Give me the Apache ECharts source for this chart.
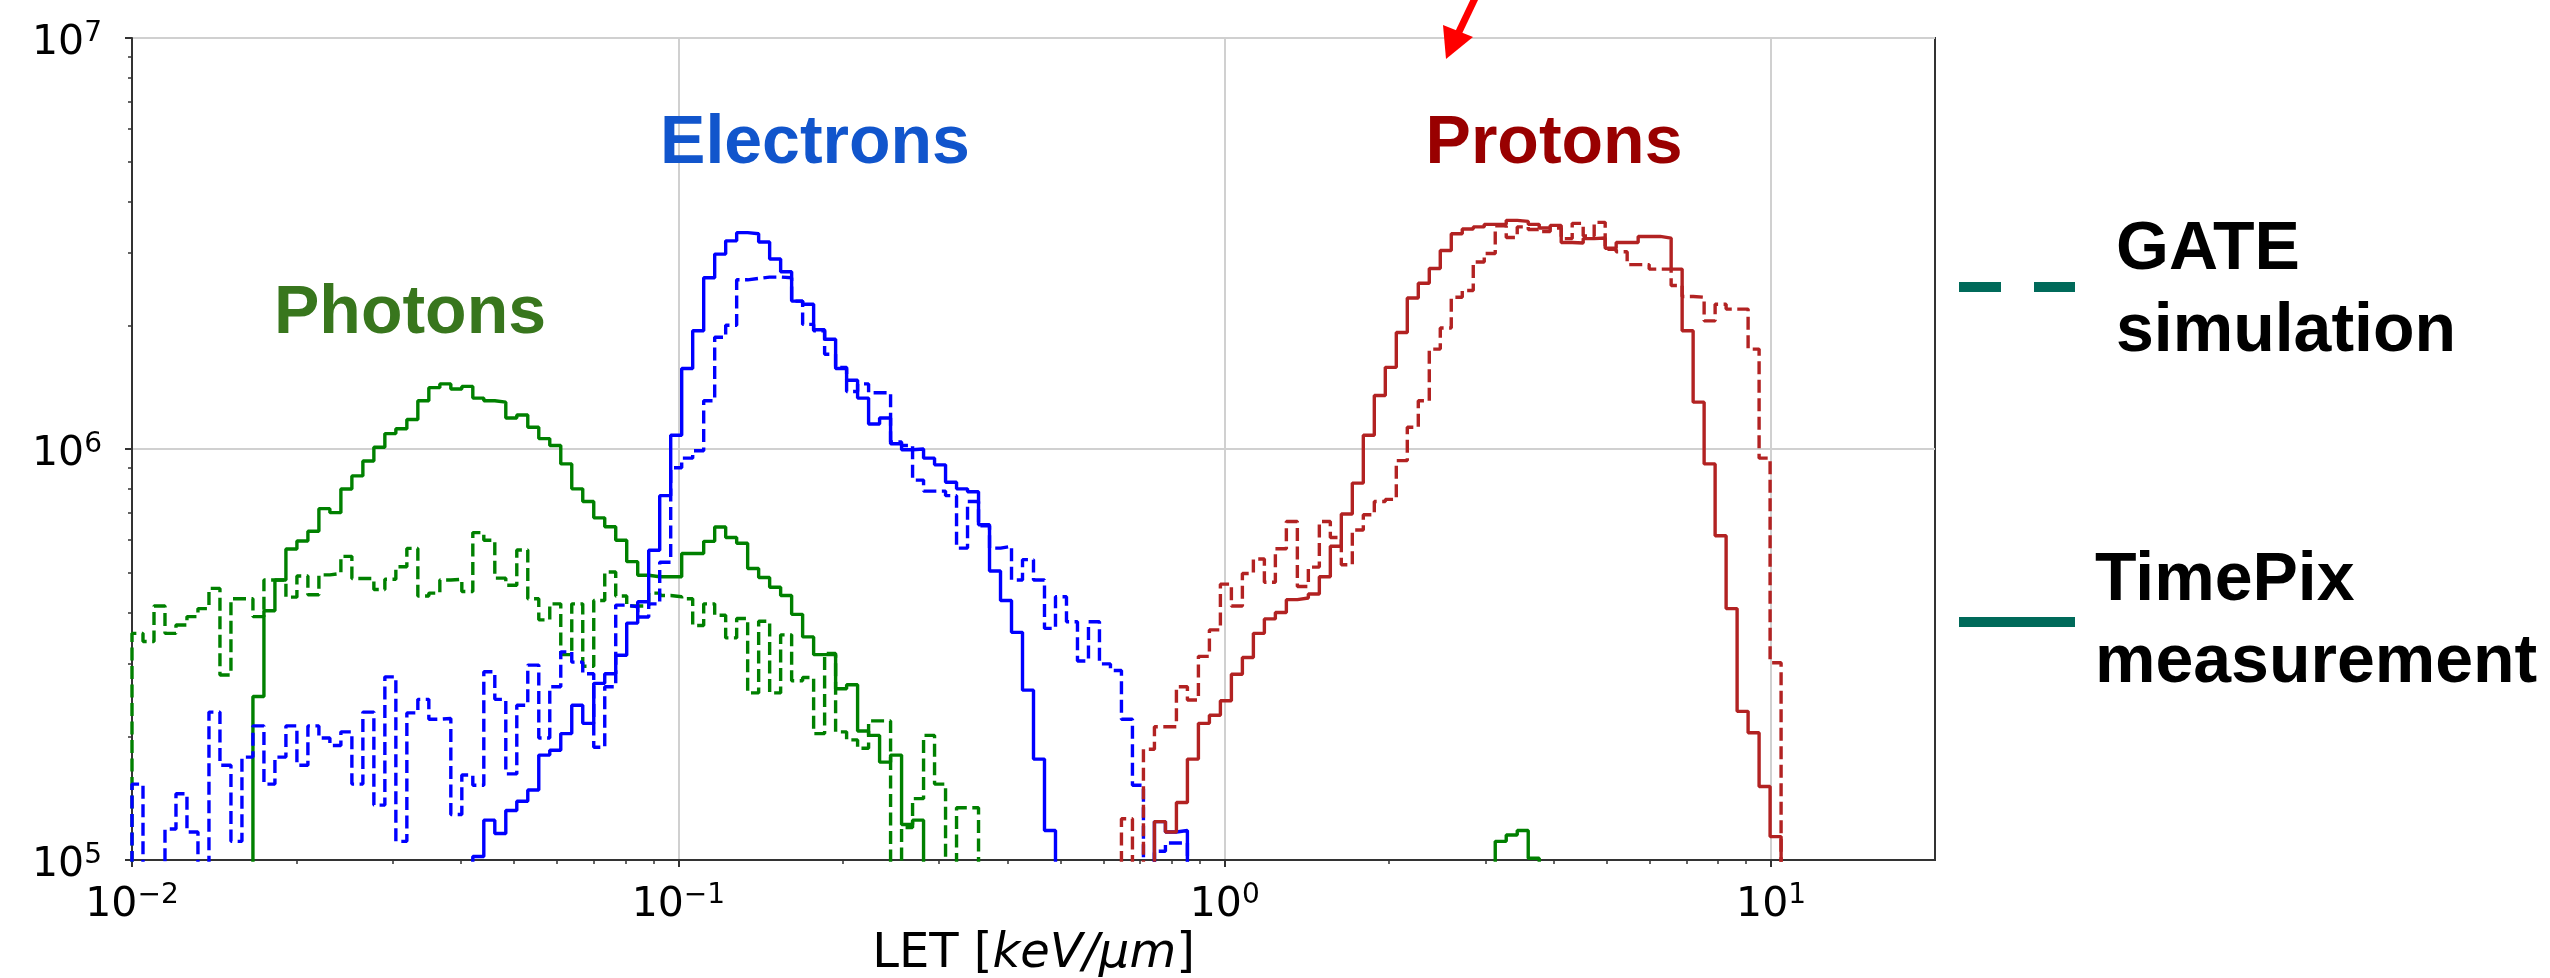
<!DOCTYPE html>
<html>
<head>
<meta charset="utf-8">
<script src="https://cdn.jsdelivr.net/npm/echarts@6/dist/echarts.min.js"></script>
<style>
html,body{margin:0;padding:0;background:#ffffff;}
#chart{width:2550px;height:978px;}
</style>
</head>
<body>
<div id="chart"></div>
<script>
// ---------------- data ----------------
// histogram bins: log-uniform edges from 10^-2 to 10^1.3
const LOG_LO = -2;
const LOG_HI = 1.3;
const N_BINS = 164;
const FLOOR = 1e4;          // below the visible 1e5 floor (line drops out of view)

const X_TICKS = [0.01, 0.1, 1, 10];
const X_MINOR = [0.02,0.03,0.04,0.05,0.06,0.07,0.08,0.09,0.2,0.3,0.4,0.5,0.6,0.7,0.8,0.9,2,3,4,5,6,7,8,9];
const Y_TICKS = [1e5, 1e6, 1e7];
const Y_MINOR = [2e5,3e5,4e5,5e5,6e5,7e5,8e5,9e5,2e6,3e6,4e6,5e6,6e6,7e6,8e6,9e6];

// counts per bin; first bin index given separately (6e4 = bin below the 1e5 floor)
const PHOTONS_GATE_FIRST = 0;
const PHOTONS_GATE = [
 3.56e5,3.4e5,4.15e5,3.56e5,3.73e5,3.91e5,4.09e5,4.58e5,2.82e5,4.32e5,
 4.32e5,3.91e5,4.8e5,4.8e5,4.36e5,4.91e5,4.42e5,4.94e5,4.98e5,5.48e5,
 4.84e5,4.84e5,4.55e5,4.82e5,5.17e5,5.73e5,4.39e5,4.46e5,4.8e5,4.82e5,
 4.5e5,6.26e5,6.0e5,4.85e5,4.66e5,5.68e5,4.32e5,3.84e5,4.2e5,3.16e5,
 4.2e5,2.96e5,4.28e5,5.02e5,4.39e5,4.15e5,4.15e5,4.46e5,4.4e5,4.37e5,
 4.32e5,3.72e5,4.2e5,3.94e5,3.47e5,3.87e5,2.55e5,3.81e5,2.55e5,3.53e5,
 2.73e5,2.78e5,2.03e5,3.18e5,2.05e5,1.96e5,1.87e5,2.18e5,2.18e5,6e4,
 1.2e5,1.41e5,2.01e5,1.53e5,6e4,1.34e5,1.34e5
];
const PHOTONS_TPX_FIRST = 11;
const PHOTONS_TPX = [
 2.5e5,4.04e5,4.8e5,5.71e5,5.97e5,6.31e5,7.16e5,7.0e5,7.99e5,8.6e5,
 9.35e5,1.01e6,1.09e6,1.12e6,1.18e6,1.31e6,1.41e6,1.44e6,1.40e6,1.42e6,
 1.33e6,1.31e6,1.30e6,1.19e6,1.21e6,1.13e6,1.06e6,1.02e6,9.2e5,8.0e5,
 7.45e5,6.8e5,6.47e5,6.0e5,5.32e5,4.93e5,4.89e5,4.89e5,4.89e5,5.57e5,
 5.57e5,5.96e5,6.46e5,6.09e5,5.90e5,5.12e5,4.87e5,4.61e5,4.40e5,3.96e5,
 3.49e5,3.16e5,3.16e5,2.61e5,2.67e5,2.06e5,2.01e5,1.73e5,1.80e5,1.22e5,
 1.25e5
];
const PHOTONS_TPX_TAIL_FIRST = 124;
const PHOTONS_TPX_TAIL = [1.11e5,1.15e5,1.18e5,1.01e5];

const ELECTRONS_GATE_FIRST = 0;
const ELECTRONS_GATE = [
 1.53e5,6e4,6e4,1.19e5,1.45e5,1.17e5,6e4,2.29e5,1.70e5,1.11e5,
 1.78e5,2.12e5,1.53e5,1.78e5,2.12e5,1.70e5,2.12e5,1.98e5,1.9e5,2.05e5,
 1.53e5,2.29e5,1.36e5,2.79e5,1.11e5,2.28e5,2.46e5,2.2e5,2.21e5,1.29e5,
 1.61e5,1.52e5,2.87e5,2.46e5,1.62e5,2.38e5,2.98e5,1.98e5,2.64e5,3.21e5,
 3.03e5,2.84e5,1.88e5,2.64e5,4.17e5,4.13e5,3.9e5,4.2e5,5.3e5,9.0e5,
 9.5e5,9.9e5,1.31e6,1.87e6,2.0e6,2.58e6,2.6e6,2.62e6,2.62e6,2.61e6,
 2.29e6,2.01e6,1.94e6,1.70e6,1.58e6,1.38e6,1.44e6,1.37e6,1.37e6,1.04e6,
 1.02e6,8.4e5,7.9e5,7.9e5,7.7e5,5.74e5,7.45e5,6.5e5,5.74e5,5.8e5,
 4.8e5,5.38e5,4.8e5,3.66e5,4.37e5,3.8e5,3.05e5,3.8e5,3.0e5,2.89e5,
 2.2e5,1.52e5,6e4,1.05e5,1.1e5,1.1e5
];
const ELECTRONS_TPX_FIRST = 31;
const ELECTRONS_TPX = [
 1.02e5,1.25e5,1.16e5,1.32e5,1.39e5,1.48e5,1.80e5,1.85e5,2.03e5,2.38e5,
 2.15e5,2.69e5,2.84e5,3.15e5,3.77e5,4.25e5,5.67e5,7.7e5,1.08e6,1.57e6,
 1.94e6,2.61e6,2.98e6,3.21e6,3.36e6,3.34e6,3.19e6,2.90e6,2.70e6,2.29e6,
 2.25e6,1.95e6,1.85e6,1.57e6,1.47e6,1.33e6,1.15e6,1.19e6,1.03e6,9.96e5,
 1.0e6,9.5e5,9.15e5,8.3e5,8.0e5,7.87e5,6.54e5,5.05e5,4.28e5,3.58e5,
 2.59e5,1.76e5,1.18e5
];
const ELECTRONS_TPX_TAIL_FIRST = 93;
const ELECTRONS_TPX_TAIL = [1.24e5,1.17e5,1.18e5];

const PROTONS_GATE_FIRST = 90;
const PROTONS_GATE = [
 1.26e5,6e4,1.86e5,2.11e5,2.11e5,2.64e5,2.45e5,3.13e5,3.63e5,4.69e5,
 4.15e5,4.98e5,5.40e5,4.74e5,5.72e5,6.66e5,4.63e5,5.16e5,6.66e5,6.09e5,
 5.23e5,6.35e5,6.92e5,7.45e5,7.54e5,9.37e5,1.13e6,1.31e6,1.75e6,1.97e6,
 2.34e6,2.43e6,2.85e6,2.99e6,3.49e6,3.27e6,3.47e6,3.42e6,3.38e6,3.45e6,
 3.25e6,3.54e6,3.30e6,3.56e6,3.06e6,3.02e6,2.81e6,2.81e6,2.74e6,2.74e6,
 2.50e6,2.35e6,2.34e6,2.05e6,2.25e6,2.19e6,2.19e6,1.75e6,9.5e5,3.02e5
];
const PROTONS_TPX_FIRST = 93;
const PROTONS_TPX = [
 1.24e5,1.17e5,1.38e5,1.76e5,2.15e5,2.25e5,2.44e5,2.83e5,3.11e5,3.56e5,
 3.86e5,4.0e5,4.30e5,4.34e5,4.44e5,4.89e5,5.8e5,6.95e5,8.26e5,1.08e6,
 1.35e6,1.58e6,1.92e6,2.33e6,2.53e6,2.75e6,3.04e6,3.34e6,3.43e6,3.47e6,
 3.52e6,3.52e6,3.60e6,3.58e6,3.52e6,3.45e6,3.50e6,3.18e6,3.17e6,3.25e6,
 3.26e6,3.08e6,3.18e6,3.18e6,3.29e6,3.29e6,3.26e6,2.74e6,1.94e6,1.30e6,
 9.2e5,6.15e5,4.09e5,2.30e5,2.04e5,1.51e5,1.14e5
];

const COLOR_PHOTONS = '#008000';
const COLOR_ELECTRONS = '#0000ff';
const COLOR_PROTONS = '#b22222';
const LEGEND_COLOR = '#006a5a';
const DASH = [13, 5.5];

// ---------------- build ----------------
function binEdge(i) {
  return Math.pow(10, LOG_LO + i * (LOG_HI - LOG_LO) / N_BINS);
}
function histPoints(segments) {
  const pts = [];
  segments.forEach(function (seg) {
    const first = seg[0], counts = seg[1];
    pts.push([binEdge(first), FLOOR]);
    counts.forEach(function (c, j) { pts.push([binEdge(first + j), c]); });
    const end = first + counts.length;
    pts.push([binEdge(end), counts[counts.length - 1]]);
    pts.push([binEdge(end), FLOOR]);
  });
  return pts;
}
function supLabel(v) {
  const e = Math.round(Math.log10(v));
  const s = (e < 0 ? '\u2212' : '') + Math.abs(e);
  return '{b|10}{s|' + s + '}';
}
const labelRich = {
  b: { fontFamily: 'DejaVu Sans', fontSize: 41, color: '#000', lineHeight: 46 },
  s: { fontFamily: 'DejaVu Sans', fontSize: 28, color: '#000', lineHeight: 21, verticalAlign: 'top' }
};
function histSeries(name, segments, color, dashed) {
  return {
    name: name, type: 'line', step: 'end', data: histPoints(segments),
    showSymbol: false, symbol: 'none', silent: true, clip: true,
    lineStyle: { color: color, width: 3.4, type: dashed ? DASH : 'solid' },
    animation: false
  };
}

const X_MIN = Math.pow(10, LOG_LO), X_MAX = Math.pow(10, LOG_HI);
const Y_MIN = 1e5, Y_MAX = 1e7;

const chart = echarts.init(document.getElementById('chart'), null, { renderer: 'canvas' });
const boldFont = 'bold 68px "Liberation Sans", Arial, sans-serif';

chart.setOption({
  animation: false,
  backgroundColor: '#ffffff',
  grid: {
    left: 132, right: 615, top: 38, bottom: 118,
    containLabel: false, outerBoundsMode: 'none',
    show: true, borderColor: '#333', borderWidth: 2, backgroundColor: 'transparent'
  },
  xAxis: [
    {
      type: 'log', logBase: 10, min: X_MIN, max: X_MAX,
      name: '{r|LET [}{i|keV/\u03bcm}{r|]}',
      nameLocation: 'middle', nameGap: 70,
      nameTextStyle: {
        rich: {
          r: { fontFamily: 'DejaVu Sans', fontSize: 48, color: '#000', lineHeight: 48 },
          i: { fontFamily: 'DejaVu Sans', fontSize: 48, color: '#000', fontStyle: 'italic', lineHeight: 48 }
        }
      },
      axisLine: { show: true, onZero: false, lineStyle: { color: '#333', width: 2 } },
      axisTick: { show: true, customValues: X_TICKS, length: 7, lineStyle: { color: '#333', width: 2 } },
      axisLabel: { customValues: X_TICKS, formatter: supLabel, rich: labelRich, margin: 22 },
      splitLine: { show: true, lineStyle: { color: '#d0d0d0', width: 2 } },
      minorTick: { show: false }
    },
    {
      type: 'log', logBase: 10, min: X_MIN, max: X_MAX, position: 'bottom',
      axisLine: { show: false, onZero: false },
      axisTick: { show: true, customValues: X_MINOR, length: 4, lineStyle: { color: '#333', width: 1.5 } },
      axisLabel: { show: false },
      splitLine: { show: false }
    }
  ],
  yAxis: [
    {
      type: 'log', logBase: 10, min: Y_MIN, max: Y_MAX,
      axisLine: { show: true, onZero: false, lineStyle: { color: '#333', width: 2 } },
      axisTick: { show: true, customValues: Y_TICKS, length: 7, lineStyle: { color: '#333', width: 2 } },
      axisLabel: { customValues: Y_TICKS, formatter: supLabel, rich: labelRich, margin: 30, padding: [10, 0, 0, 0] },
      splitLine: { show: true, lineStyle: { color: '#d0d0d0', width: 2 } }
    },
    {
      type: 'log', logBase: 10, min: Y_MIN, max: Y_MAX, position: 'left',
      axisLine: { show: false, onZero: false },
      axisTick: { show: true, customValues: Y_MINOR, length: 4, lineStyle: { color: '#333', width: 1.5 } },
      axisLabel: { show: false },
      splitLine: { show: false }
    }
  ],
  series: [
    histSeries('Photons GATE', [[PHOTONS_GATE_FIRST, PHOTONS_GATE]], COLOR_PHOTONS, true),
    histSeries('Photons TimePix', [[PHOTONS_TPX_FIRST, PHOTONS_TPX], [PHOTONS_TPX_TAIL_FIRST, PHOTONS_TPX_TAIL]], COLOR_PHOTONS, false),
    histSeries('Electrons GATE', [[ELECTRONS_GATE_FIRST, ELECTRONS_GATE]], COLOR_ELECTRONS, true),
    histSeries('Electrons TimePix', [[ELECTRONS_TPX_FIRST, ELECTRONS_TPX], [ELECTRONS_TPX_TAIL_FIRST, ELECTRONS_TPX_TAIL]], COLOR_ELECTRONS, false),
    histSeries('Protons GATE', [[PROTONS_GATE_FIRST, PROTONS_GATE]], COLOR_PROTONS, true),
    histSeries('Protons TimePix', [[PROTONS_TPX_FIRST, PROTONS_TPX]], COLOR_PROTONS, false)
  ],
  graphic: [
    // particle annotations
    { type: 'text', z: 100, style: { text: 'Photons', x: 410, y: 314, font: boldFont, fill: '#38761d', textAlign: 'center', textVerticalAlign: 'middle' } },
    { type: 'text', z: 100, style: { text: 'Electrons', x: 815, y: 144, font: boldFont, fill: '#1155cc', textAlign: 'center', textVerticalAlign: 'middle' } },
    { type: 'text', z: 100, style: { text: 'Protons', x: 1554, y: 144, font: boldFont, fill: '#990000', textAlign: 'center', textVerticalAlign: 'middle' } },
    // red arrow
    { type: 'line', z: 100, shape: { x1: 1477, y1: -6, x2: 1457, y2: 36 }, style: { stroke: '#ff0000', lineWidth: 7 } },
    { type: 'polygon', z: 100, shape: { points: [[1443, 25], [1473, 37], [1446, 59]] }, style: { fill: '#ff0000' } },
    // legend
    { type: 'line', z: 100, shape: { x1: 1959, y1: 287, x2: 2001, y2: 287 }, style: { stroke: LEGEND_COLOR, lineWidth: 10 } },
    { type: 'line', z: 100, shape: { x1: 2034, y1: 287, x2: 2075, y2: 287 }, style: { stroke: LEGEND_COLOR, lineWidth: 10 } },
    { type: 'text', z: 100, style: { text: 'GATE', x: 2116, y: 250, font: boldFont, fill: '#000', textAlign: 'left', textVerticalAlign: 'middle' } },
    { type: 'text', z: 100, style: { text: 'simulation', x: 2116, y: 332, font: boldFont, fill: '#000', textAlign: 'left', textVerticalAlign: 'middle' } },
    { type: 'line', z: 100, shape: { x1: 1959, y1: 622, x2: 2075, y2: 622 }, style: { stroke: LEGEND_COLOR, lineWidth: 10 } },
    { type: 'text', z: 100, style: { text: 'TimePix', x: 2095, y: 581, font: boldFont, fill: '#000', textAlign: 'left', textVerticalAlign: 'middle' } },
    { type: 'text', z: 100, style: { text: 'measurement', x: 2095, y: 663, font: boldFont, fill: '#000', textAlign: 'left', textVerticalAlign: 'middle' } }
  ]
});
</script>
</body>
</html>
